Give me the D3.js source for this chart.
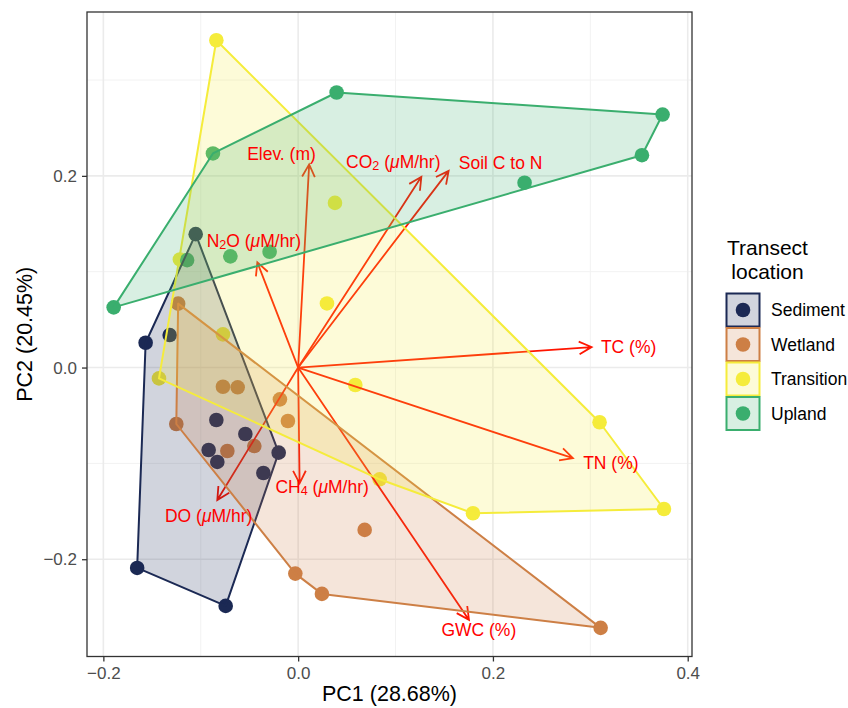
<!DOCTYPE html>
<html>
<head>
<meta charset="utf-8">
<script src="https://cdn.jsdelivr.net/npm/d3@7"></script>
<style>
  body { margin: 0; background: #fff; }
  svg { display: block; font-family: "Liberation Sans", Arial, Helvetica, sans-serif; }
</style>
</head>
<body>
<svg id="chart" width="848" height="708"></svg>
<script>
// PCA scores per transect location [PC1, PC2]
const groups = ['Sediment', 'Wetland', 'Transition', 'Upland'];
const groupColors = ['#1b2954', '#cd7f45', '#f5ec3b', '#3aae6e'];

const sediment = [[-0.1052, 0.1392], [-0.1566, 0.0259], [-0.1319, 0.0339], [-0.0840, -0.0547],
    [-0.0542, -0.0693], [-0.0919, -0.0860], [-0.0830, -0.0985], [-0.0200, -0.0888],
    [-0.0357, -0.1100], [-0.1653, -0.2091], [-0.0744, -0.2487]];
const wetland = [[-0.1232, 0.0667], [-0.0772, -0.0200], [-0.0621, -0.0206], [-0.0187, -0.0332],
    [-0.0105, -0.0558], [-0.1251, -0.0589], [-0.0727, -0.0871], [-0.0450, -0.0819],
    [0.0683, -0.1694], [-0.0029, -0.2150], [0.0244, -0.2362], [0.3106, -0.2716]];
const transition = [[-0.0840, 0.3415], [0.0378, 0.1718], [-0.1214, 0.1128], [-0.0772, 0.0346],
    [-0.1429, -0.0113], [0.0296, 0.0669], [0.0587, -0.0182], [0.0837, -0.1166],
    [0.1795, -0.1520], [0.3095, -0.0571], [0.3756, -0.1476]];
const upland = [[0.0395, 0.2870], [-0.0875, 0.2234], [0.3742, 0.2640], [0.3530, 0.2216],
    [0.2325, 0.1929], [-0.1894, 0.0628], [-0.1140, 0.1121], [-0.0696, 0.1160], [-0.0293, 0.1208]];
const scores = [sediment, wetland, transition, upland];

// variable loadings (arrow tips) and label anchors
const varLabels = ['Elev. (m)', 'CO_2 (μM/hr)', 'Soil C to N', 'N_2O (μM/hr)', 'TC (%)',
    'TN (%)', 'GWC (%)', 'CH_4 (μM/hr)', 'DO (μM/hr)'];
const loadPC1 = [0.0113, 0.1265, 0.1545, -0.0419, 0.3013, 0.2821, 0.1754, 0.0015, -0.0830];
const loadPC2 = [0.2120, 0.1990, 0.2052, 0.1097, 0.0214, -0.0946, -0.2633, -0.1208, -0.1382];
const labelPC1 = [-0.0171, 0.0977, 0.2079, -0.0455, 0.3393, 0.3211, 0.1855, 0.0246, -0.0919];
const labelPC2 = [0.2233, 0.2148, 0.2136, 0.1322, 0.0214, -0.0999, -0.2739, -0.1245, -0.1548];

const xMajor = [-0.2, 0, 0.2, 0.4];
const xMinor = [-0.1, 0.1, 0.3];
const yMajor = [-0.2, 0, 0.2];
const yMinor = [-0.1, 0.1, 0.3];

const margin = {top: 12, right: 156, bottom: 51.5, left: 87};
const width = 848, height = 708;

const svg = d3.select('#chart');
const x = d3.scaleLinear().domain([-0.2168, 0.4044]).range([margin.left, width - margin.right]);
const y = d3.scaleLinear().domain([-0.3015, 0.371]).range([height - margin.bottom, margin.top]);

const fmt = d3.format('.1f');
const arrowColor = '#ff1500';
const labelColor = '#ff0000';

// grid
const grid = svg.append('g');
grid.selectAll('.xminor').data(xMinor).join('line')
    .attr('x1', d => x(d)).attr('x2', d => x(d))
    .attr('y1', y.range()[1]).attr('y2', y.range()[0])
    .style('stroke', '#f2f2f2').style('stroke-width', 1);
grid.selectAll('.yminor').data(yMinor).join('line')
    .attr('y1', d => y(d)).attr('y2', d => y(d))
    .attr('x1', x.range()[0]).attr('x2', x.range()[1])
    .style('stroke', '#f2f2f2').style('stroke-width', 1);
grid.selectAll('.xmajor').data(xMajor).join('line')
    .attr('x1', d => x(d)).attr('x2', d => x(d))
    .attr('y1', y.range()[1]).attr('y2', y.range()[0])
    .style('stroke', '#ebebeb').style('stroke-width', 1.6);
grid.selectAll('.ymajor').data(yMajor).join('line')
    .attr('y1', d => y(d)).attr('y2', d => y(d))
    .attr('x1', x.range()[0]).attr('x2', x.range()[1])
    .style('stroke', '#ebebeb').style('stroke-width', 1.6);

// points
const pointLayer = svg.append('g');
scores.forEach((pts, gi) => {
    pointLayer.selectAll(null).data(pts).join('circle')
        .attr('cx', d => x(d[0]))
        .attr('cy', d => y(d[1]))
        .attr('r', 7.3)
        .style('fill', groupColors[gi]);
});

// loading arrows
const arrowLayer = svg.append('g');
const headLen = 14, headAngle = 27 * Math.PI / 180;
loadPC1.forEach((lx, i) => {
    const x0 = x(0), y0 = y(0);
    const x1 = x(lx), y1 = y(loadPC2[i]);
    const a = Math.atan2(y1 - y0, x1 - x0);
    const l1 = [x1 - headLen * Math.cos(a - headAngle), y1 - headLen * Math.sin(a - headAngle)];
    const l2 = [x1 - headLen * Math.cos(a + headAngle), y1 - headLen * Math.sin(a + headAngle)];
    arrowLayer.append('path')
        .attr('d', `M${x0},${y0}L${x1},${y1}M${l1[0]},${l1[1]}L${x1},${y1}L${l2[0]},${l2[1]}`)
        .style('fill', 'none')
        .style('stroke', arrowColor)
        .style('stroke-width', 1.8)
        .style('stroke-linejoin', 'miter');
});

// hulls
const hullLayer = svg.append('g');
scores.forEach((pts, gi) => {
    const hull = d3.polygonHull(pts.map(d => [x(d[0]), y(d[1])]));
    hullLayer.append('path')
        .attr('d', 'M' + hull.join('L') + 'Z')
        .style('fill', groupColors[gi])
        .style('fill-opacity', 0.2)
        .style('stroke', groupColors[gi])
        .style('stroke-width', 2)
        .style('stroke-linejoin', 'round');
});

// arrow labels with subscripts and italic mu
function richText(text, str, size) {
    const parts = [];
    for (let i = 0; i < str.length; i++) {
        const c = str[i];
        const last = parts[parts.length - 1];
        if (c === '_') { parts.push({t: str[i + 1], sub: true}); i++; }
        else if (c === 'μ') parts.push({t: c, it: true});
        else if (last && !last.sub && !last.it) last.t += c;
        else parts.push({t: c});
    }
    let shifted = false;
    parts.forEach(p => {
        const ts = text.append('tspan').text(p.t);
        if (p.sub) {
            ts.style('font-size', (size * 0.72) + 'px').attr('dy', 2);
            shifted = true;
        } else if (shifted) {
            ts.attr('dy', -2);
            shifted = false;
        }
        if (p.it) ts.style('font-style', 'italic');
    });
}

const labelLayer = svg.append('g');
varLabels.forEach((lab, i) => {
    const t = labelLayer.append('text')
        .attr('x', x(labelPC1[i]))
        .attr('y', y(labelPC2[i]) + 6)
        .attr('text-anchor', 'middle')
        .style('font-size', '17.5px')
        .style('fill', labelColor);
    richText(t, lab, 17.5);
});

// panel border
svg.append('rect')
    .attr('x', x.range()[0]).attr('y', y.range()[1])
    .attr('width', x.range()[1] - x.range()[0])
    .attr('height', y.range()[0] - y.range()[1])
    .style('fill', 'none').style('stroke', '#333333').style('stroke-width', 1.3);

// axes
const xAxis = svg.append('g')
    .attr('transform', `translate(0,${y.range()[0]})`)
    .call(d3.axisBottom(x).tickValues(xMajor).tickFormat(fmt).tickSize(5).tickPadding(5));
const yAxis = svg.append('g')
    .attr('transform', `translate(${x.range()[0]},0)`)
    .call(d3.axisLeft(y).tickValues(yMajor).tickFormat(fmt).tickSize(5).tickPadding(5));
[xAxis, yAxis].forEach(ax => {
    ax.select('.domain').remove();
    ax.selectAll('.tick line').style('stroke', '#333333').style('stroke-width', 1.3);
    ax.selectAll('.tick text').style('fill', '#4d4d4d').style('font-size', '17px')
        .style('font-family', '"Liberation Sans", Arial, Helvetica, sans-serif');
});

// axis titles
const cx = (x.range()[0] + x.range()[1]) / 2;
const cy = (y.range()[0] + y.range()[1]) / 2;
svg.append('text')
    .attr('x', cx).attr('y', 701)
    .attr('text-anchor', 'middle')
    .style('font-size', '21.5px').style('fill', '#000')
    .text('PC1 (28.68%)');
svg.append('text')
    .attr('transform', `translate(32,${cy}) rotate(-90)`)
    .attr('text-anchor', 'middle')
    .style('font-size', '21.5px').style('fill', '#000')
    .text('PC2 (20.45%)');

// legend
const legend = svg.append('g');
legend.append('text')
    .attr('x', 767.5).attr('y', 255)
    .attr('text-anchor', 'middle')
    .style('font-size', '21px')
    .selectAll('tspan').data(['Transect', 'location']).join('tspan')
    .attr('x', 767.5)
    .attr('dy', (d, i) => i === 0 ? 0 : 24.4)
    .text(d => d);

const keySize = 33, keyStep = 34.5, keyX = 726.5, keyY = 293.5;
groups.forEach((g, i) => {
    const ky = keyY + i * keyStep;
    legend.append('rect')
        .attr('x', keyX).attr('y', ky)
        .attr('width', keySize).attr('height', keySize)
        .style('fill', groupColors[i]).style('fill-opacity', 0.2)
        .style('stroke', groupColors[i]).style('stroke-width', 2);
    legend.append('circle')
        .attr('cx', keyX + keySize / 2).attr('cy', ky + keySize / 2)
        .attr('r', 7.3)
        .style('fill', groupColors[i]);
    legend.append('text')
        .attr('x', 771).attr('y', ky + keySize / 2 + 6)
        .style('font-size', '17.5px')
        .text(g);
});
</script>
</body>
</html>
